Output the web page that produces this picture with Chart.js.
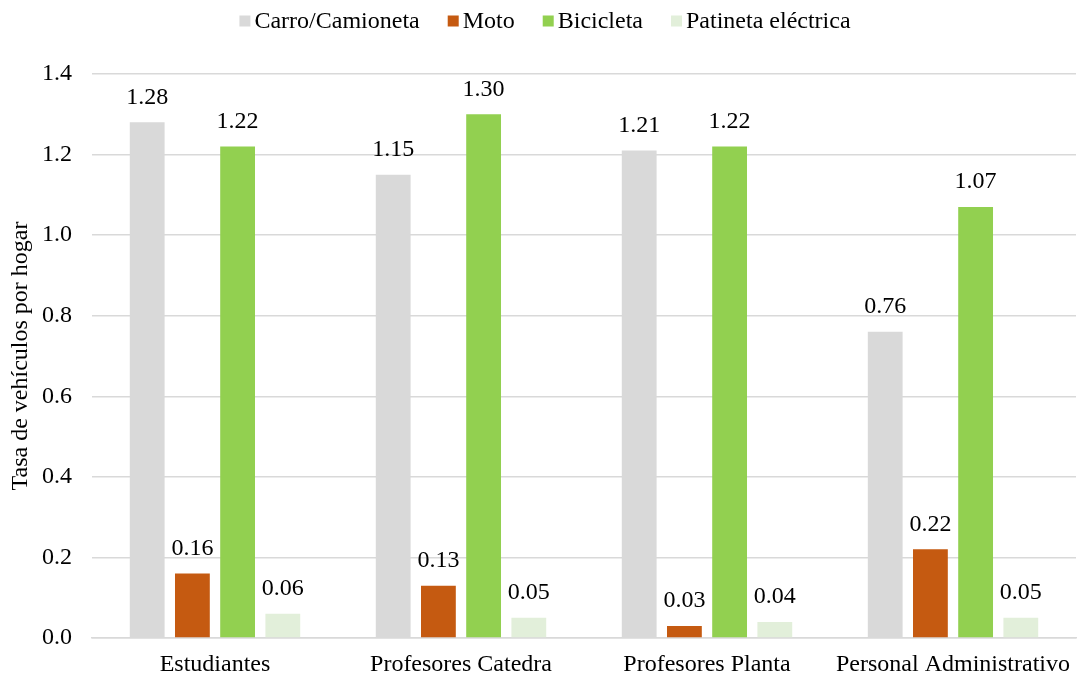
<!DOCTYPE html>
<html>
<head>
<meta charset="utf-8">
<script src="https://cdn.jsdelivr.net/npm/chart.js@4/dist/chart.umd.min.js"></script>
<style>
  html, body { margin: 0; padding: 0; background: #fff; }
  #wrap { width: 1082px; height: 677px; }
</style>
</head>
<body>
<div id="wrap"><canvas id="c" width="1082" height="677"></canvas></div>
<script>
const categories = ['Estudiantes', 'Profesores Catedra', 'Profesores Planta', 'Personal Administrativo'];
const seriesNames = ['Carro/Camioneta', 'Moto', 'Bicicleta', 'Patineta eléctrica'];
const carro = [1.28, 1.15, 1.21, 0.76];
const moto = [0.16, 0.13, 0.03, 0.22];
const bicicleta = [1.22, 1.30, 1.22, 1.07];
const patineta = [0.06, 0.05, 0.04, 0.05];
const yTicks = [0, 0.2, 0.4, 0.6, 0.8, 1.0, 1.2, 1.4];

const colors = ['#D9D9D9', '#C55A11', '#92D050', '#E2EFDA'];
const FONT = '"Liberation Serif", "Times New Roman", serif';
const FS = 24;

// Writes each bar's value just above it
const valueLabels = {
  id: 'valueLabels',
  afterDatasetsDraw(chart) {
    const ctx = chart.ctx;
    ctx.save();
    ctx.font = FS + 'px ' + FONT;
    ctx.fillStyle = '#000';
    ctx.textAlign = 'center';
    ctx.textBaseline = 'middle';
    chart.data.datasets.forEach((ds, i) => {
      chart.getDatasetMeta(i).data.forEach((bar, j) => {
        ctx.fillText(ds.data[j].toFixed(2), bar.x, bar.y - 25);
      });
    });
    ctx.restore();
  }
};

// Compact legend row across the top: small square, short gap, series name
const topLegend = {
  id: 'topLegend',
  afterDraw(chart) {
    const ctx = chart.ctx;
    const box = 11, gap = 4, spacing = 28;
    ctx.save();
    ctx.font = FS + 'px ' + FONT;
    ctx.textBaseline = 'middle';
    ctx.textAlign = 'left';
    const items = chart.data.datasets.map(ds => ({
      text: ds.label, color: ds.backgroundColor, w: ctx.measureText(ds.label).width
    }));
    const total = items.reduce((s, it) => s + box + gap + it.w, 0) + spacing * (items.length - 1);
    let x = (chart.width - total) / 2 + 4;
    const y = 21;
    items.forEach(it => {
      ctx.fillStyle = it.color;
      ctx.fillRect(x, y - box / 2, box, box);
      ctx.fillStyle = '#000';
      ctx.fillText(it.text, x + box + gap, y + 1);
      x += box + gap + it.w + spacing;
    });
    ctx.restore();
  }
};

const seriesData = [carro, moto, bicicleta, patineta];

new Chart(document.getElementById('c'), {
  type: 'bar',
  data: {
    labels: categories,
    datasets: seriesNames.map((name, i) => ({
      label: name,
      data: seriesData[i],
      backgroundColor: colors[i],
      borderWidth: 0,
      categoryPercentage: 0.735,
      barPercentage: 0.77
    }))
  },
  options: {
    responsive: false,
    animation: false,
    devicePixelRatio: 1,
    layout: { padding: { left: 0, right: 0, top: 74, bottom: 0 } },
    plugins: {
      legend: { display: false },
      tooltip: { enabled: false }
    },
    scales: {
      x: {
        afterFit(scale) { scale.height = 39; },
        grid: { display: false, drawTicks: false },
        border: { display: true, color: '#D9D9D9', width: 1.5 },
        ticks: { font: { family: FONT, size: FS }, color: '#000', padding: 12 }
      },
      y: {
        min: 0,
        max: 1.4,
        afterFit(scale) { scale.width = 92; },
        afterBuildTicks(scale) { scale.ticks = yTicks.map(v => ({ value: v })); },
        grid: { color: '#D9D9D9', lineWidth: 1.5, drawTicks: false },
        border: { display: false },
        ticks: {
          font: { family: FONT, size: FS },
          color: '#000',
          padding: 20,
          callback: v => Number(v).toFixed(1)
        },
        title: {
          display: true,
          text: 'Tasa de vehículos por hogar',
          font: { family: FONT, size: FS },
          color: '#000',
          padding: { top: 6, bottom: 0 }
        }
      }
    }
  },
  plugins: [valueLabels, topLegend]
});
</script>
</body>
</html>
